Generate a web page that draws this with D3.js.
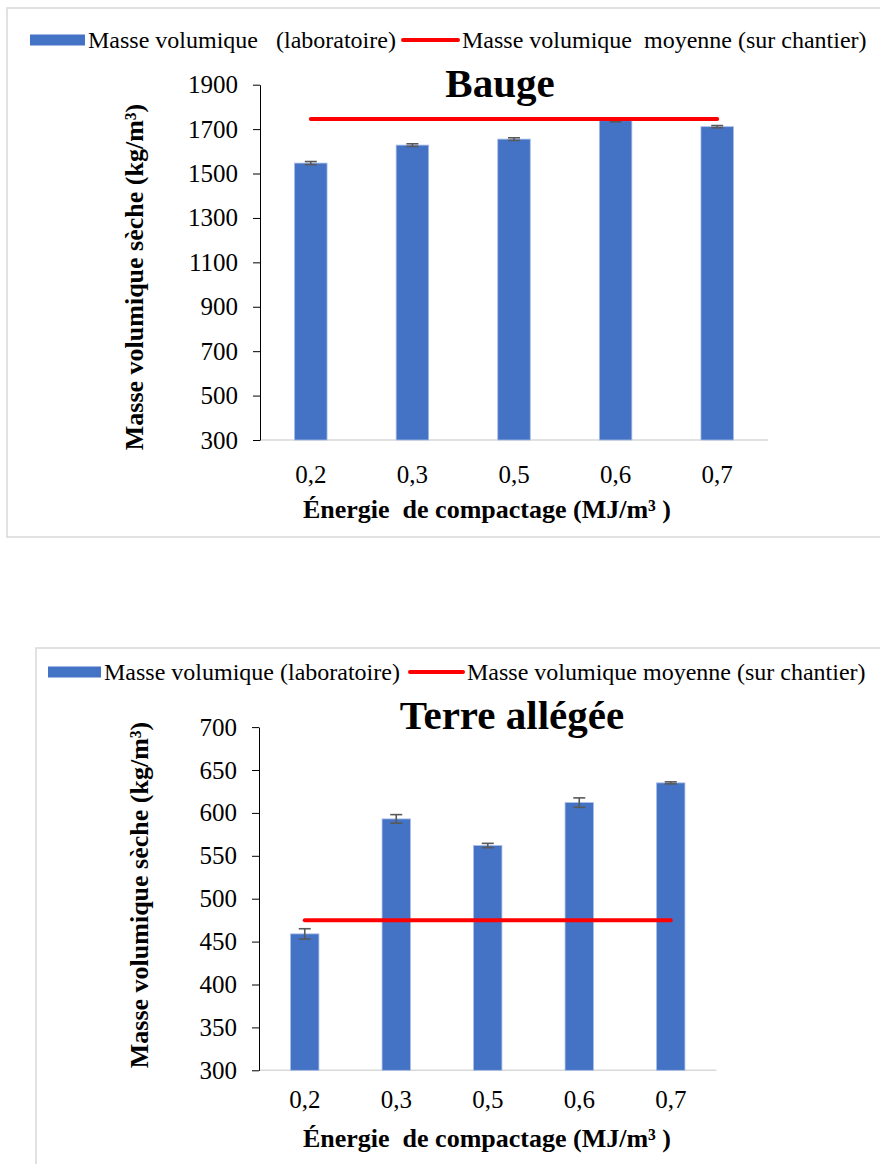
<!DOCTYPE html>
<html>
<head>
<meta charset="utf-8">
<script src="https://cdn.jsdelivr.net/npm/d3@7"></script>
<style>
  body { margin: 0; background: #fff; }
  text { font-family: "Liberation Serif", "Times New Roman", serif; fill: #000; }
</style>
</head>
<body>
<svg id="chart" width="880" height="1164"></svg>
<script>
// data
const categories = ["0,2", "0,3", "0,5", "0,6", "0,7"];

const baugeLab = [1547, 1628, 1655, 1738, 1711];
const baugeErr = [7, 6, 6, 5, 5];
const baugeSite = 1745;
const baugeTicks = [300, 500, 700, 900, 1100, 1300, 1500, 1700, 1900];

const terreLab = [459, 593, 562, 612, 635];
const terreErr = [6, 5, 2.5, 5.5, 1.2];
const terreSite = 475;
const terreTicks = [300, 350, 400, 450, 500, 550, 600, 650, 700];

const legendLab = "Masse volumique (laboratoire)";
const legendSite = "Masse volumique moyenne (sur chantier)";

const barColor = "#4472C4";
const lineColor = "#FF0000";
const serif = '"Liberation Serif", "Times New Roman", serif';

const svg = d3.select("#chart");

function drawChart(c) {
  const g = svg.append("g");

  // outer frame
  g.append("rect")
    .attr("x", c.frame[0]).attr("y", c.frame[1])
    .attr("width", c.frame[2]).attr("height", c.frame[3])
    .attr("fill", "none").attr("stroke", "#d9d9d9").attr("stroke-width", 1.5);

  // legend
  g.append("rect")
    .attr("x", c.leg.boxX).attr("y", c.leg.y - 5.5)
    .attr("width", c.leg.boxW).attr("height", 11)
    .attr("fill", barColor);
  g.append("text")
    .attr("x", c.leg.boxX + c.leg.boxW + 3).attr("y", c.leg.y + 8)
    .attr("font-size", 24).attr("xml:space", "preserve")
    .text(c.leg.text1);
  g.append("line")
    .attr("x1", c.leg.lineX).attr("x2", c.leg.lineX + c.leg.boxW)
    .attr("y1", c.leg.y).attr("y2", c.leg.y)
    .attr("stroke", lineColor).attr("stroke-width", 4).attr("stroke-linecap", "round");
  g.append("text")
    .attr("x", c.leg.lineX + c.leg.boxW + 4).attr("y", c.leg.y + 8)
    .attr("font-size", 24).attr("xml:space", "preserve")
    .text(c.leg.text2);

  const x = d3.scaleBand()
    .domain(categories)
    .range([c.left, c.right])
    .paddingInner(c.pad).paddingOuter(c.pad / 2);

  const y = d3.scaleLinear()
    .domain([c.ticks[0], c.ticks[c.ticks.length - 1]])
    .range([c.bottom, c.top]);

  // x baseline
  g.append("line")
    .attr("x1", c.left).attr("x2", c.right)
    .attr("y1", c.bottom).attr("y2", c.bottom)
    .attr("stroke", "#d9d9d9").attr("stroke-width", 1.5);

  // bars
  g.selectAll(".bar")
    .data(c.values)
    .enter()
    .append("rect")
    .attr("x", (d, i) => x(categories[i]))
    .attr("y", d => y(d))
    .attr("width", x.bandwidth())
    .attr("height", d => c.bottom - y(d))
    .attr("fill", barColor)
    .attr("stroke", "#a9bde6").attr("stroke-width", 0.8);

  // error bars
  const eb = g.selectAll(".err")
    .data(c.values)
    .enter()
    .append("g")
    .attr("stroke", "#595959").attr("stroke-width", 1.6);
  eb.append("line")
    .attr("x1", (d, i) => x(categories[i]) + x.bandwidth() / 2)
    .attr("x2", (d, i) => x(categories[i]) + x.bandwidth() / 2)
    .attr("y1", (d, i) => y(d - c.errors[i]))
    .attr("y2", (d, i) => y(d + c.errors[i]));
  [-1, 1].forEach(s => {
    eb.append("line")
      .attr("x1", (d, i) => x(categories[i]) + x.bandwidth() / 2 - 6)
      .attr("x2", (d, i) => x(categories[i]) + x.bandwidth() / 2 + 6)
      .attr("y1", (d, i) => y(d + s * c.errors[i]))
      .attr("y2", (d, i) => y(d + s * c.errors[i]));
  });

  // mean on site
  g.append("line")
    .attr("x1", x(categories[0]) + x.bandwidth() / 2)
    .attr("x2", x(categories[categories.length - 1]) + x.bandwidth() / 2)
    .attr("y1", y(c.site)).attr("y2", y(c.site))
    .attr("stroke", lineColor).attr("stroke-width", 4).attr("stroke-linecap", "round");

  // y axis
  const yAxis = g.append("g")
    .attr("transform", "translate(" + c.left + ",0)")
    .call(d3.axisLeft(y).tickValues(c.ticks).tickFormat(d3.format("d"))
      .tickSize(7).tickSizeOuter(0).tickPadding(15));
  yAxis.attr("font-family", null).attr("font-size", 25);
  yAxis.select(".domain").attr("stroke", "#000");
  yAxis.selectAll(".tick line").attr("stroke", "#000");
  yAxis.selectAll("text").attr("fill", "#000");

  // x axis labels
  const xAxis = g.append("g")
    .attr("transform", "translate(0," + c.bottom + ")")
    .call(d3.axisBottom(x).tickSize(0).tickPadding(c.xPad));
  xAxis.attr("font-family", null).attr("font-size", 25);
  xAxis.select(".domain").remove();
  xAxis.selectAll("text").attr("fill", "#000");

  // title
  g.append("text")
    .attr("x", c.titleX).attr("y", c.titleY)
    .attr("text-anchor", "middle")
    .attr("font-size", 41).attr("font-weight", "bold")
    .text(c.title);

  // axis titles
  g.append("text")
    .attr("x", c.xTitleX).attr("y", c.xTitleY)
    .attr("text-anchor", "middle")
    .attr("font-size", 26).attr("font-weight", "bold")
    .attr("xml:space", "preserve")
    .text("Énergie  de compactage (MJ/m³ )");

  g.append("text")
    .attr("transform", "translate(" + c.yTitleX + "," + c.yTitleY + ") rotate(-90)")
    .attr("text-anchor", "middle")
    .attr("font-size", 26).attr("font-weight", "bold")
    .text("Masse volumique sèche (kg/m³)");
}

drawChart({
  frame: [7, 8, 900, 529],
  leg: { y: 40, boxX: 30, boxW: 55, lineX: 403,
         text1: "Masse volumique   (laboratoire)",
         text2: "Masse volumique  moyenne (sur chantier)" },
  left: 260, right: 768, top: 84.7, bottom: 440, pad: 0.68,
  values: baugeLab, errors: baugeErr, site: baugeSite, ticks: baugeTicks,
  xPad: 25, title: "Bauge", titleX: 500, titleY: 97,
  xTitleX: 487, xTitleY: 518, yTitleX: 143, yTitleY: 277
});

drawChart({
  frame: [36, 648, 900, 600],
  leg: { y: 672, boxX: 48, boxW: 53, lineX: 410,
         text1: legendLab, text2: legendSite },
  left: 259, right: 716.5, top: 727.1, bottom: 1070.3, pad: 0.69,
  values: terreLab, errors: terreErr, site: terreSite, ticks: terreTicks,
  xPad: 20, title: "Terre allégée", titleX: 512, titleY: 729,
  xTitleX: 487, xTitleY: 1146.7, yTitleX: 148, yTitleY: 895
});

// make sure every label uses the serif face
svg.selectAll("text").style("font-family", serif);
</script>
</body>
</html>
